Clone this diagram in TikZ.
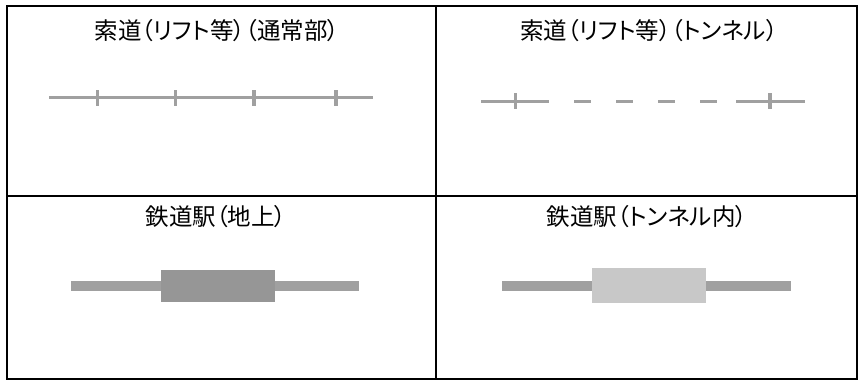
\documentclass[tikz,border=0pt]{standalone}
\usepackage{fontspec}
\setmainfont[RawFeature=+palt]{Noto Sans CJK JP}
\usetikzlibrary{positioning}

\definecolor{cablegray}{RGB}{160,160,160}
\definecolor{stationdark}{RGB}{150,150,150}
\definecolor{stationlight}{RGB}{200,200,200}

\begin{document}
\begin{tikzpicture}[x=1pt, y=-1pt,
	nosep/.style={inner sep=0pt, outer sep=0pt},
	frame/.style={draw=black, line width=2pt},
	title/.style={nosep, font=\fontsize{23.5}{27}\selectfont},
	cable/.style={draw=cablegray, line width=3pt},
	cabletick/.style={draw=cablegray, line width=3.5pt},
	cabletunnel/.style={cable, dash pattern=on 17pt off 25pt},
	track/.style={fill=cablegray},
	station/.style={fill=stationdark},
	stationtunnel/.style={fill=stationlight}
]

\useasboundingbox (0,0) rectangle (858,381);

% Outer rectangle and cell lines
\draw[frame] (7,6) rectangle (857,379);
\draw[frame] (436,6) -- (436,379);
\draw[frame] (7,196) -- (857,196);

% Titles
\node[title] (t1) at (217,31) {索道（リフト等）（通常部）};
\node[title] (t2) at (649,31) {索道（リフト等）（トンネル）};
\node[title] (t3) at (216,217) {鉄道駅（地上）};
\node[title] (t4) at (647,217) {鉄道駅（トンネル内）};

% Ropeway (normal)
\draw[cable] (49,97.5) -- (373,97.5);
\foreach \x in {97.5, 175.5, 254, 336}
	\draw[cabletick] (\x,90) -- (\x,106);

% Ropeway (tunnel)
\draw[cable] (481,101) -- (549,101);
\draw[cabletunnel] (574,101) -- (717,101);
\draw[cable] (736,101) -- (805,101);
\foreach \x in {515.5, 770}
	\draw[cabletick] (\x,93) -- (\x,109);

% Railway station (ground)
\fill[track] (71,281) rectangle (359,291);
\fill[station] (161,270) rectangle (274.5,302);

% Railway station (tunnel)
\fill[track] (502,281) rectangle (790.5,291);
\fill[stationtunnel] (592,268) rectangle (706,302.5);

\end{tikzpicture}
\end{document}
